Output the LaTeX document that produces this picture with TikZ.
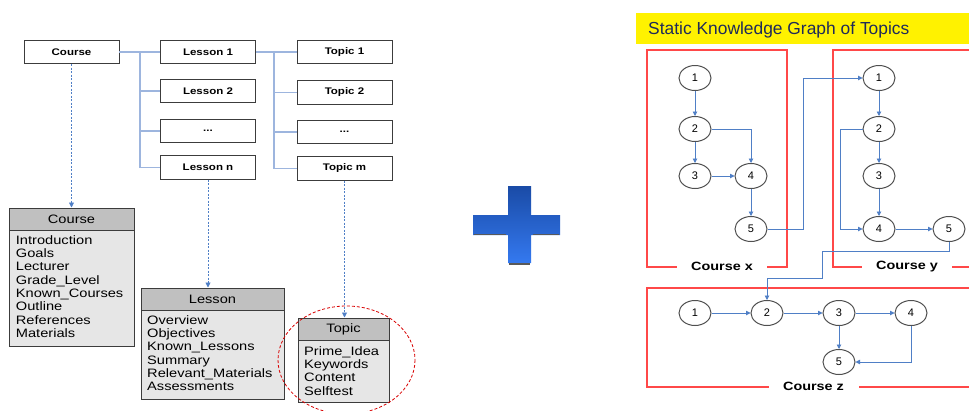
\documentclass[tikz,border=0pt]{standalone}
\usepackage{fontspec}
\setmainfont{Liberation Sans}
\newfontfamily\widefont{Liberation Sans}[FakeStretch=1.2]
\usetikzlibrary{arrows.meta,shapes.geometric}

\definecolor{boxline}{HTML}{3C3C3C}
\definecolor{treeline}{HTML}{9DB5DE}
\definecolor{linkblue}{HTML}{4F7FC6}
\definecolor{classfill}{HTML}{E6E6E6}
\definecolor{classhead}{HTML}{C0C0C0}
\definecolor{courseframe}{HTML}{FF4848}
\definecolor{titlenavy}{HTML}{1F2A5A}
\definecolor{nodegray}{HTML}{505050}
\definecolor{plusdark}{HTML}{1A4BA6}
\definecolor{pluslight}{HTML}{3479F0}

\tikzset{
  hbox/.style={draw=boxline, line width=0.9pt, fill=white, minimum width=95pt,
    minimum height=23.5pt, inner sep=0pt, font=\widefont\fontsize{9.6}{11}\selectfont\bfseries},
  tree/.style={draw=treeline, line width=1.4pt},
  dashlink/.style={draw=linkblue, line width=0.9pt, dash pattern=on 2pt off 1.5pt,
    -{Triangle[length=5pt,width=5pt]}},
  classhd/.style={draw=boxline, line width=1pt, fill=classhead, inner sep=0pt,
    minimum height=22pt, font=\widefont\fontsize{12.2}{14}\selectfont},
  classbody/.style={draw=boxline, line width=1pt, fill=classfill, inner sep=0pt},
  item/.style={anchor=base west, inner sep=0pt, font=\widefont\fontsize{12.2}{14}\selectfont},
  gnode/.style={ellipse, draw=nodegray, line width=1pt, fill=white, minimum width=32pt,
    minimum height=25pt, inner sep=0pt, font=\fontsize{11}{12}\selectfont},
  glink/.style={draw=linkblue, line width=0.9pt, -{Triangle[length=4.5pt,width=4.5pt]}},
  courseborder/.style={draw=courseframe, line width=1.2pt},
  framelabel/.style={fill=white, inner sep=0pt, minimum width=90pt, minimum height=12pt,
    font=\widefont\fontsize{12}{14}\selectfont\bfseries},
}

\begin{document}
\begin{tikzpicture}[x=1pt,y=-1pt]
\useasboundingbox (0,0) rectangle (969,410);
\clip (0,0) rectangle (969,410);
\fill[white] (0,0) rectangle (969,410);

% ---------- course / lesson / topic hierarchy ----------
\node[hbox] (course)  at (71.5,52)   {Course};
\node[hbox] (lesson1) at (208,52)    {Lesson 1};
\node[hbox] (lesson2) at (208,91)    {Lesson 2};
\node[hbox] (lessond) at (208,131)   {...};
\node[hbox] (lessonn) at (208,167.5) {Lesson n};
\node[hbox] (topic1)  at (344.5,52)    {Topic 1};
\node[hbox] (topic2)  at (344.5,92.5)  {Topic 2};
\node[hbox] (topicd)  at (344.5,132)   {...};
\node[hbox] (topicm)  at (344.5,168.5) {Topic m};

\coordinate (ltrunk) at (140,52);
\coordinate (ttrunk) at (274,52);
\draw[tree] (course.east) -- (lesson1.west);
\draw[tree] (ltrunk) |- (lesson2.west);
\draw[tree] (ltrunk) |- (lessond.west);
\draw[tree] (ltrunk) |- (lessonn.west);
\draw[tree] (lesson1.east) -- (topic1.west);
\draw[tree] (ttrunk) |- (topic2.west);
\draw[tree] (ttrunk) |- (topicd.west);
\draw[tree] (ttrunk) |- (topicm.west);

% ---------- class boxes ----------
\node[classbody, minimum width=125pt, minimum height=116pt] (coursebody) at (71.5,288) {};
\node[classhd, minimum width=125pt] (coursehead) at (71.5,219) {Course};
\foreach \t [count=\i] in {Introduction,Goals,Lecturer,Grade\_Level,Known\_Courses,Outline,References,Materials}
  \node[item] (ci\i) at (15.7,{244.3+13.3*(\i-1)}) {\t};

\node[classbody, minimum width=143pt, minimum height=89pt] (lessonbody) at (212.5,354.5) {};
\node[classhd, minimum width=143pt] (lessonhead) at (212.5,299) {Lesson};
\foreach \t [count=\i] in {Overview,Objectives,Known\_Lessons,Summary,Relevant\_Materials,Assessments}
  \node[item] (li\i) at (147,{324.3+13.3*(\i-1)}) {\t};

\node[classbody, minimum width=91pt, minimum height=62pt] (topicbody) at (343.5,371) {};
\node[classhd, minimum width=91pt] (topichead) at (343.5,329) {Topic};
\foreach \t [count=\i] in {Prime\_Idea,Keywords,Content,Selftest}
  \node[item] (ti\i) at (304,{355.3+13.3*(\i-1)}) {\t};

\draw[dashlink] (course.south) -- (coursehead.north);
\draw[dashlink] (lessonn.south) -- (lessonn.south |- lessonhead.north);
\draw[dashlink] (topicm.south) -- (topicm.south |- topichead.north);

% highlight around the topic class
\draw[draw=red!85!black, line width=0.8pt, dash pattern=on 3pt off 2pt]
  (346.5,360) ellipse [x radius=68.5, y radius=54];

% ---------- plus sign ----------
\shade[top color=plusdark, bottom color=pluslight]
  (473,215) rectangle (560,235) (508,186) rectangle (531,263);
\draw[gray!70!black, line width=1.6pt] (474,234.5) -- (506,234.5);
\draw[gray!70!black, line width=1.6pt] (533,234.5) -- (559,234.5);
\draw[gray!70!black, line width=1.8pt] (509,264) -- (530,264);

% ---------- static knowledge graph ----------
\fill[yellow] (636,13) rectangle (980,44);
\node[anchor=base west, inner sep=0pt, text=titlenavy, font=\fontsize{17.4}{20}\selectfont]
  (title) at (648,34.3) {Static Knowledge Graph of Topics};

\draw[courseborder] (647,50) rectangle (787,267);
\draw[courseborder] (833,50) rectangle (980,267);
\draw[courseborder] (647,288) rectangle (980,387);
\node[framelabel] (labx) at (722,266.5) {Course x};
\node[framelabel] (laby) at (907,266.5) {Course y};
\node[framelabel] (labz) at (813.5,386.5) {Course z};

% course x
\node[gnode] (x1) at (695,78)  {1};
\node[gnode] (x2) at (695,129) {2};
\node[gnode] (x3) at (695,176) {3};
\node[gnode] (x4) at (751,176) {4};
\node[gnode] (x5) at (751,229) {5};
% course y
\node[gnode] (y1) at (879,78)  {1};
\node[gnode] (y2) at (879,129) {2};
\node[gnode] (y3) at (879,176) {3};
\node[gnode] (y4) at (879,229) {4};
\node[gnode] (y5) at (949,229) {5};
% course z
\node[gnode] (z1) at (695,313) {1};
\node[gnode] (z2) at (767,313) {2};
\node[gnode] (z3) at (839,313) {3};
\node[gnode] (z4) at (911,313) {4};
\node[gnode] (z5) at (839,362) {5};

\draw[glink] (x1) -- (x2);
\draw[glink] (x2) -- (x3);
\draw[glink] (x2.east) -| (x4.north);
\draw[glink] (x3) -- (x4);
\draw[glink] (x4) -- (x5);
\coordinate (xy) at (803,229);
\draw[glink] (x5.east) -- (xy) |- (y1.west);

\draw[glink] (y1) -- (y2);
\draw[glink] (y2) -- (y3);
\draw[glink] (y3) -- (y4);
\coordinate (yb) at (840,129);
\draw[glink] (y2.west) -- (yb) |- (y4.west);
\draw[glink] (y4) -- (y5);
\coordinate (yz1) at (822,251);
\coordinate (yz2) at (767,278);
\draw[glink] (y5.south) |- (yz1) |- (yz2) -- (z2.north);

\draw[glink] (z1) -- (z2);
\draw[glink] (z2) -- (z3);
\draw[glink] (z3) -- (z4);
\draw[glink] (z3) -- (z5);
\draw[glink] (z4.south) |- (z5.east);
\end{tikzpicture}
\end{document}
